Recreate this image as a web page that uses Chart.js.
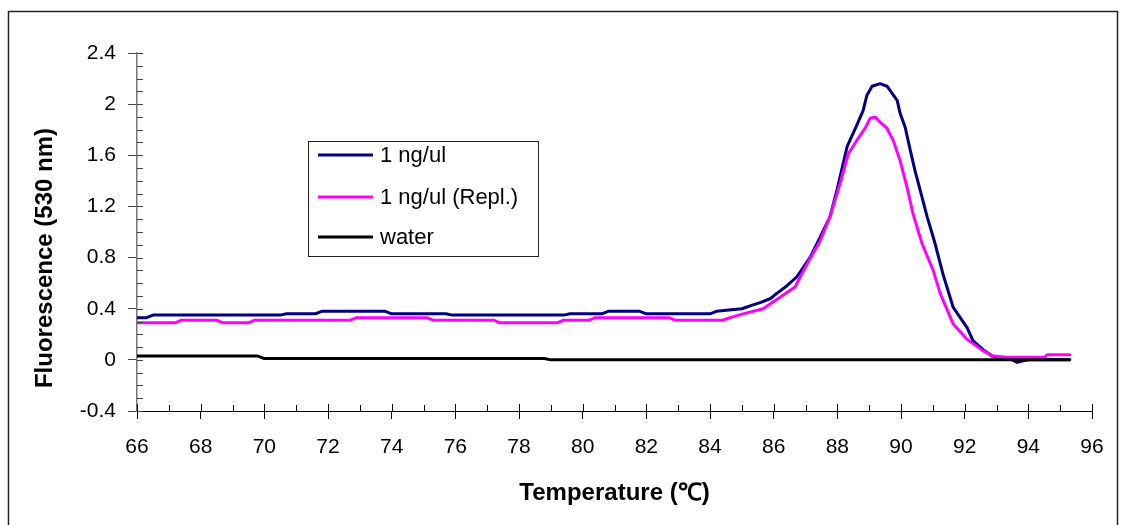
<!DOCTYPE html>
<html>
<head>
<meta charset="utf-8">
<script src="https://cdn.jsdelivr.net/npm/chart.js@4.4.1/dist/chart.umd.min.js"></script>
<style>
    html, body { margin: 0; padding: 0; background: #fff; }
    #wrap { width: 1126px; height: 525px; }
</style>
</head>
<body>
<div id="wrap"><canvas id="myChart" width="1126" height="525"></canvas></div>
<script>
// melt curve data (temperature in C, fluorescence at 530 nm)
const sampleTemps = [66, 66.3, 66.5, 70.5, 70.7, 71.6, 71.8, 73.8, 74.0, 75.7, 75.9, 79.4, 79.6, 80.6, 80.8, 81.8, 82.0, 84.0, 84.2, 84.6, 85.0, 85.35, 85.6, 85.9, 86.1, 86.42, 86.73, 87.14, 87.46, 87.77, 87.99, 88.31, 88.62, 88.81, 88.93, 89.09, 89.34, 89.56, 89.88, 89.97, 90.13, 90.29, 90.44, 90.6, 90.82, 91.07, 91.32, 91.64, 92.08, 92.26, 92.58, 92.86, 93.3, 93.5, 93.65, 93.8, 94.0, 95.3];
const sampleValues = [0.33, 0.33, 0.35, 0.35, 0.36, 0.36, 0.38, 0.38, 0.36, 0.36, 0.35, 0.35, 0.36, 0.36, 0.38, 0.38, 0.36, 0.36, 0.38, 0.39, 0.40, 0.43, 0.45, 0.48, 0.52, 0.58, 0.65, 0.80, 0.96, 1.12, 1.33, 1.67, 1.84, 1.95, 2.07, 2.14, 2.16, 2.14, 2.03, 1.93, 1.82, 1.64, 1.48, 1.33, 1.12, 0.91, 0.67, 0.41, 0.25, 0.15, 0.08, 0.03, 0.01, 0.0, -0.02, -0.01, 0.0, 0.0];

const replTemps = [66, 67.2, 67.4, 68.5, 68.7, 69.5, 69.7, 72.7, 72.9, 75.1, 75.3, 77.2, 77.4, 79.2, 79.4, 80.2, 80.4, 82.7, 82.9, 84.4, 84.63, 85.04, 85.67, 86.2, 86.67, 87.05, 87.46, 87.77, 88.09, 88.34, 88.62, 88.87, 89.03, 89.19, 89.34, 89.56, 89.75, 89.97, 90.19, 90.38, 90.66, 91.01, 91.23, 91.64, 92.08, 92.58, 92.89, 93.33, 94.5, 94.6, 95.3];
const replValues = [0.29, 0.29, 0.31, 0.31, 0.29, 0.29, 0.31, 0.31, 0.33, 0.33, 0.31, 0.31, 0.29, 0.29, 0.31, 0.31, 0.33, 0.33, 0.31, 0.31, 0.33, 0.36, 0.40, 0.49, 0.57, 0.75, 0.93, 1.12, 1.38, 1.61, 1.72, 1.81, 1.89, 1.90, 1.86, 1.81, 1.72, 1.56, 1.35, 1.14, 0.91, 0.70, 0.52, 0.28, 0.16, 0.07, 0.03, 0.02, 0.02, 0.04, 0.04];

const waterTemps = [66, 69.8, 70.0, 78.8, 79.0, 95.3];
const waterValues = [0.03, 0.03, 0.01, 0.01, 0.0, 0.0];

const seriesLabels = ['1 ng/ul', '1 ng/ul (Repl.)', 'water'];
const seriesColors = ['#000080', '#ff00ff', '#000000'];

const xMin = 66, xMax = 96, xStep = 2, xMinorStep = 1;
const yMin = -0.4, yMax = 2.4, yStep = 0.4, yMinorStep = 0.1;

const FONT = "'Liberation Sans', Arial, sans-serif";

function toPoints(temps, values) {
    return temps.map((t, i) => ({ x: t, y: values[i] }));
}

// outer frame, minor ticks, ticks crossing the axes, y title, legend box
const extrasPlugin = {
    id: 'extras',
    beforeDraw(chart) {
        const ctx = chart.ctx;
        ctx.save();
        ctx.fillStyle = '#fff';
        ctx.fillRect(0, 0, chart.width, chart.height);
        ctx.strokeStyle = '#222';
        ctx.lineWidth = 1.5;
        ctx.strokeRect(8.5, 11.5, 1109, 600);
        ctx.restore();
    },
    afterDraw(chart) {
        const ctx = chart.ctx;
        const xs = chart.scales.x, ys = chart.scales.y;
        ctx.save();
        ctx.lineWidth = 1;

        ctx.strokeStyle = '#444';
        for (let v = yMin; v <= yMax + 1e-9; v += yMinorStep) {
            const py = Math.round(ys.getPixelForValue(v)) + 0.5;
            ctx.beginPath();
            ctx.moveTo(xs.left, py);
            ctx.lineTo(xs.left + 6, py);
            ctx.stroke();
        }

        ctx.strokeStyle = '#000';
        for (let v = xMin; v <= xMax + 1e-9; v += xMinorStep) {
            const px = Math.round(xs.getPixelForValue(v)) + 0.5;
            const major = Math.abs((v - xMin) % xStep) < 1e-9;
            ctx.beginPath();
            ctx.moveTo(px, ys.bottom);
            ctx.lineTo(px, ys.bottom - (major ? 7 : 6));
            ctx.stroke();
        }

        // y axis title
        ctx.fillStyle = '#000';
        ctx.font = 'bold 24px ' + FONT;
        ctx.textAlign = 'center';
        ctx.textBaseline = 'middle';
        ctx.translate(45, 258);
        ctx.rotate(-Math.PI / 2);
        ctx.fillText('Fluorescence (530 nm)', 0, 0);
        ctx.restore();

        // legend
        ctx.save();
        const bx = 308.5, by = 141.5, bw = 230, bh = 115;
        ctx.fillStyle = '#fff';
        ctx.fillRect(bx, by, bw, bh);
        ctx.strokeStyle = '#222';
        ctx.lineWidth = 1;
        ctx.strokeRect(bx, by, bw, bh);
        ctx.font = '22px ' + FONT;
        ctx.textAlign = 'left';
        ctx.textBaseline = 'middle';
        const rows = [155, 197, 237];
        chart.data.datasets.forEach((ds, i) => {
            ctx.strokeStyle = ds.borderColor;
            ctx.lineWidth = 3;
            ctx.beginPath();
            ctx.moveTo(318, rows[i]);
            ctx.lineTo(373, rows[i]);
            ctx.stroke();
            ctx.fillStyle = '#000';
            ctx.fillText(ds.label, 380, rows[i] + 1);
        });
        ctx.restore();
    }
};

const ctx = document.getElementById('myChart').getContext('2d');
const myChart = new Chart(ctx, {
    type: 'line',
    data: {
        datasets: [
            { label: seriesLabels[0], data: toPoints(sampleTemps, sampleValues), borderColor: seriesColors[0], order: 3 },
            { label: seriesLabels[1], data: toPoints(replTemps, replValues), borderColor: seriesColors[1], order: 2 },
            { label: seriesLabels[2], data: toPoints(waterTemps, waterValues), borderColor: seriesColors[2], order: 1 }
        ]
    },
    options: {
        responsive: false,
        animation: false,
        devicePixelRatio: 1,
        layout: { padding: { left: 0, top: 53, right: 34, bottom: 0 } },
        elements: {
            line: { borderWidth: 3, tension: 0, fill: false, borderJoinStyle: 'round', borderCapStyle: 'round' },
            point: { radius: 0 }
        },
        plugins: {
            legend: { display: false },
            tooltip: { enabled: false }
        },
        scales: {
            x: {
                type: 'linear',
                min: xMin,
                max: xMax,
                afterFit: s => { s.height = 114; },
                grid: { drawOnChartArea: false, tickLength: 8, color: '#000', tickColor: '#000' },
                border: { color: '#000', width: 1 },
                ticks: {
                    stepSize: xStep,
                    padding: 16,
                    color: '#000',
                    font: { family: FONT, size: 21 },
                    maxRotation: 0,
                    callback: v => String(v)
                },
                title: {
                    display: true,
                    text: 'Temperature (℃)',
                    color: '#000',
                    font: { family: FONT, size: 24, weight: 'bold' },
                    padding: { top: 0, bottom: 17 }
                }
            },
            y: {
                type: 'linear',
                min: yMin,
                max: yMax,
                afterFit: s => { s.width = 137; },
                grid: { drawOnChartArea: false, tickLength: 9, color: '#444', tickColor: '#444' },
                border: { color: '#777', width: 1.5 },
                ticks: {
                    stepSize: yStep,
                    padding: 12,
                    color: '#000',
                    font: { family: FONT, size: 21 },
                    callback: v => String(Math.round(v * 10) / 10)
                }
            }
        }
    },
    plugins: [extrasPlugin]
});
</script>
</body>
</html>
